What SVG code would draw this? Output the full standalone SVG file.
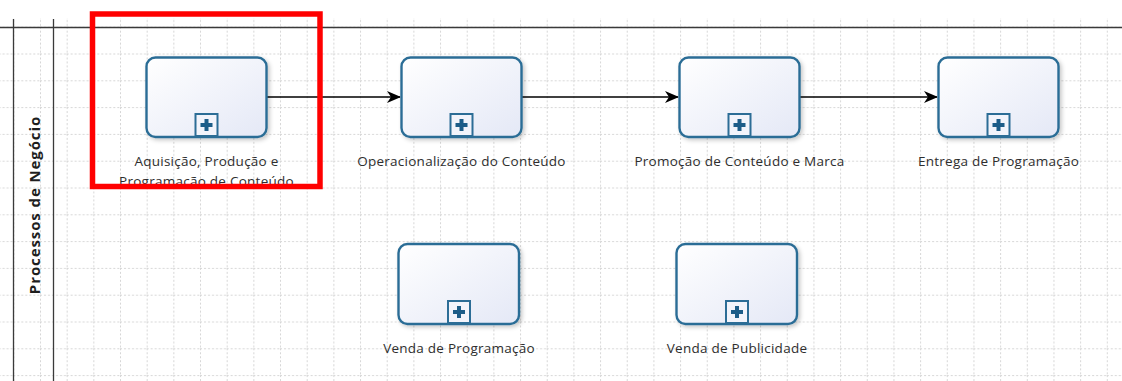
<svg xmlns="http://www.w3.org/2000/svg" width="1122" height="381" viewBox="0 0 1122 381">
  <style>
    .task { fill: url(#taskFill); stroke: #2c6d96; stroke-width: 2.4; filter: url(#shadow); }
    .marker-box { fill: #f2f4fb; stroke: #2c6d96; stroke-width: 2; }
    .plus { fill: #1d5d88; }
    .label { font-family: "Open Sans", "Noto Sans", sans-serif; font-size: 13.5px; letter-spacing: 0.25px; fill: #2e2e2e; text-anchor: middle; }
    .lane-title { font-family: "Open Sans", "Liberation Sans", sans-serif; font-size: 15px; letter-spacing: 0.9px; font-weight: bold; fill: #1e1e1e; text-anchor: middle; }
    .flow { fill: none; stroke: #000; stroke-width: 1.4; marker-end: url(#arrow); }
    .lane { stroke: #3a3a3a; stroke-width: 1.3; fill: none; }
  </style>
  <defs>
    <linearGradient id="taskFill" x1="0" y1="0" x2="1" y2="1">
      <stop offset="0" stop-color="#ffffff"/>
      <stop offset="1" stop-color="#e4e8f6"/>
    </linearGradient>
    <filter id="shadow" x="-10%" y="-10%" width="125%" height="130%">
      <feDropShadow dx="2" dy="2" stdDeviation="2" flood-color="#000" flood-opacity="0.22"/>
    </filter>
    <pattern id="grid" patternUnits="userSpaceOnUse" x="13.33" y="26.7" width="26.67" height="26.8">
      <path d="M0 0.5 H26.67 M0.5 0 V26.8" fill="none" stroke="#d6d6d6" stroke-width="1" stroke-dasharray="2 2"/>
    </pattern>
    <marker id="arrow" viewBox="0 0 14 12" refX="13" refY="6" markerWidth="14" markerHeight="12" markerUnits="userSpaceOnUse" orient="auto">
      <path d="M0 0 L14 6 L0 12 L4 6 Z" fill="#000"/>
    </marker>
    <g id="subMarker">
      <rect class="marker-box" x="-11" y="-23" width="22" height="22"/>
      <rect class="plus" x="-6" y="-14" width="12" height="4"/>
      <rect class="plus" x="-2" y="-18" width="4" height="12"/>
    </g>
  </defs>

  <!-- background and grid -->
  <rect x="0" y="0" width="1122" height="381" fill="#fff"/>
  <rect x="0" y="18" width="1122" height="363" fill="url(#grid)"/>

  <!-- pool / lane frame -->
  <g id="lane">
    <path class="lane" d="M0 27.5 H1122 M13.5 19 V381 M53.5 19 V381"/>
    <text class="lane-title" transform="translate(40 205) rotate(-90)">Processos de Negócio</text>
  </g>

  <!-- sequence flows -->
  <g id="connectors">
    <path class="flow" d="M267 97 H400"/>
    <path class="flow" d="M522 97 H678"/>
    <path class="flow" d="M800 97 H937"/>
  </g>

  <!-- collapsed sub-processes -->
  <g id="aquisicao">
    <rect class="task" x="146.5" y="57.5" width="120" height="79.5" rx="9"/>
    <use href="#subMarker" x="206.5" y="137"/>
    <text class="label" x="206.5" y="166">Aquisição, Produção e</text>
    <text class="label" x="206.5" y="186">Programação de Conteúdo</text>
  </g>
  <g id="operacionalizacao">
    <rect class="task" x="401.5" y="57.5" width="120" height="79.5" rx="9"/>
    <use href="#subMarker" x="461.5" y="137"/>
    <text class="label" x="461.5" y="166">Operacionalização do Conteúdo</text>
  </g>
  <g id="promocao">
    <rect class="task" x="679.5" y="57.5" width="120" height="79.5" rx="9"/>
    <use href="#subMarker" x="739.5" y="137"/>
    <text class="label" x="739.5" y="166">Promoção de Conteúdo e Marca</text>
  </g>
  <g id="entrega">
    <rect class="task" x="938.5" y="57.5" width="120" height="79.5" rx="9"/>
    <use href="#subMarker" x="998.5" y="137"/>
    <text class="label" x="998.5" y="166">Entrega de Programação</text>
  </g>
  <g id="venda-programacao">
    <rect class="task" x="398.5" y="244" width="120.5" height="80" rx="9"/>
    <use href="#subMarker" x="459" y="324"/>
    <text class="label" x="459" y="353">Venda de Programação</text>
  </g>
  <g id="venda-publicidade">
    <rect class="task" x="676.5" y="244" width="120.5" height="80" rx="9"/>
    <use href="#subMarker" x="737" y="324"/>
    <text class="label" x="737" y="353">Venda de Publicidade</text>
  </g>

  <!-- highlight frame -->
  <rect id="highlight" x="92.5" y="14" width="227.5" height="172.5" fill="none" stroke="#ff0000" stroke-width="5.5"/>
</svg>
